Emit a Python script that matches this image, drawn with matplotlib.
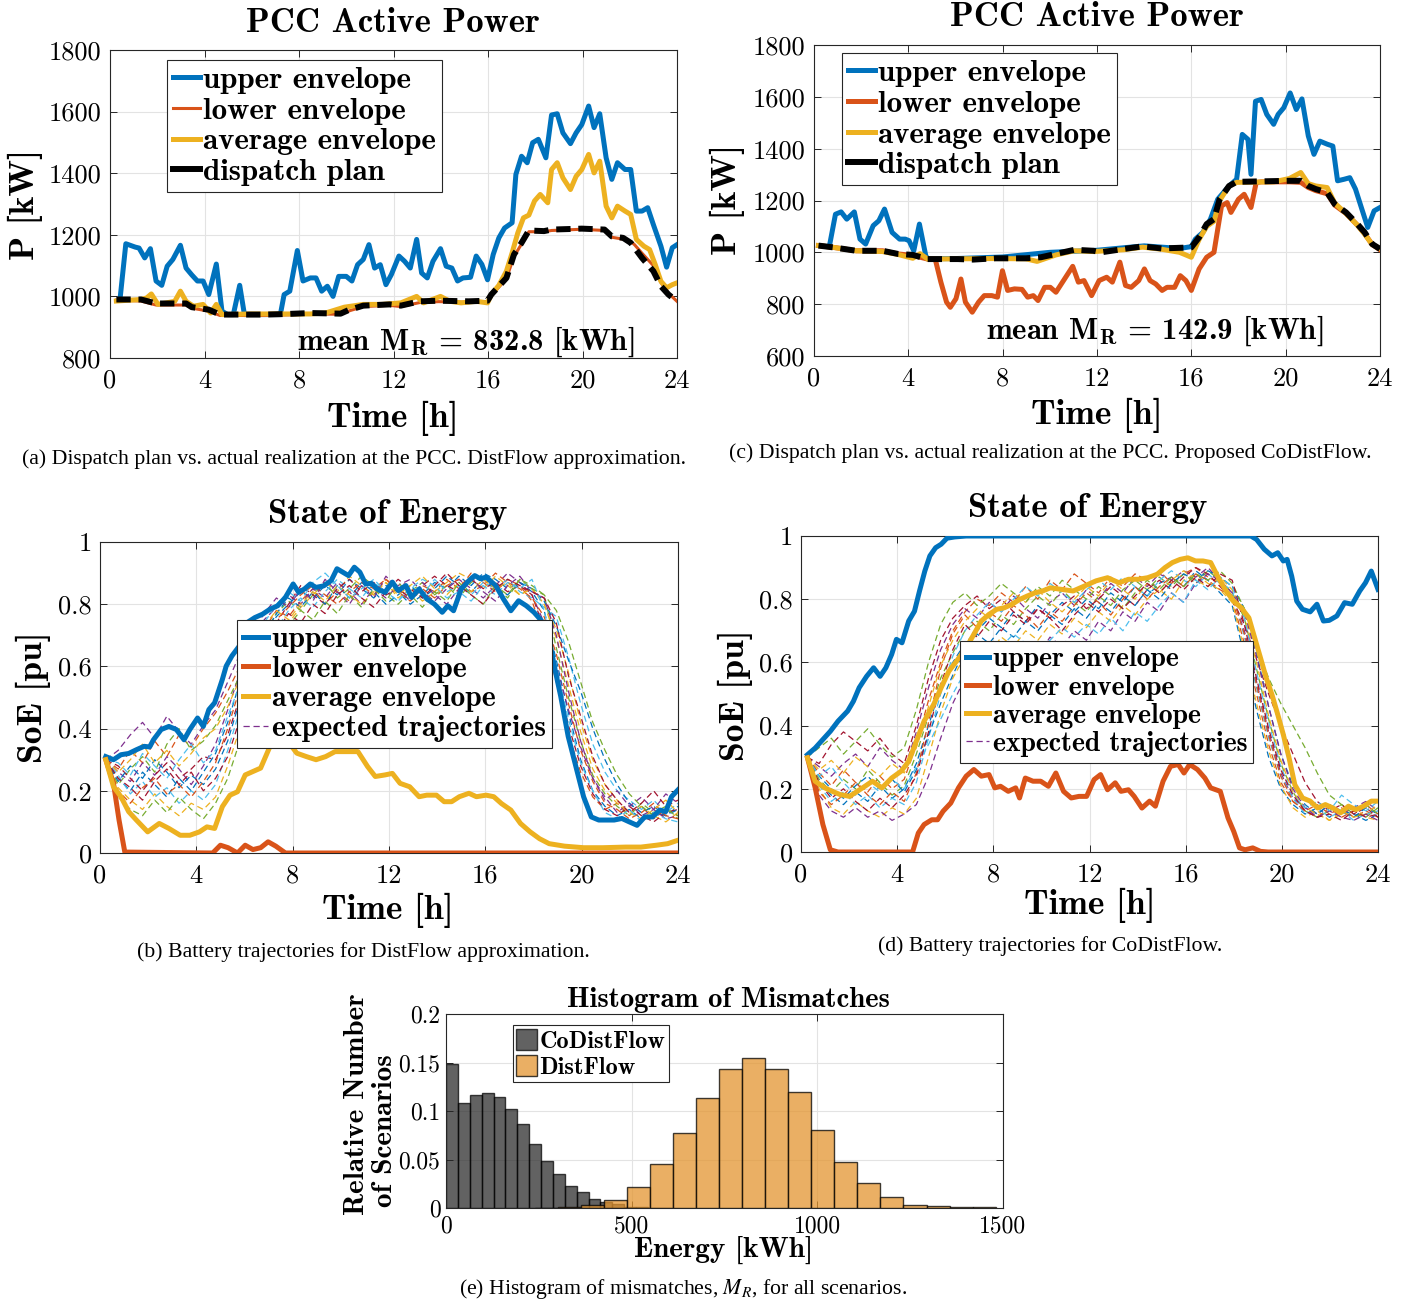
import numpy as np
import matplotlib.pyplot as plt
from matplotlib.lines import Line2D
from matplotlib.patches import Patch

plt.rcParams['font.family'] = 'cmr10'
plt.rcParams['axes.unicode_minus'] = False
plt.rcParams['mathtext.fontset'] = 'cm'

# MATLAB default colours
BLUE, ORANGE, YELLOW = '#0072BD', '#D95319', '#EDB120'
PURPLE, GREEN, CYAN, DRED = '#7E2F8E', '#77AC30', '#4DBEEE', '#A2142F'
TRAJ_COLORS = [BLUE, ORANGE, YELLOW, PURPLE, GREEN, CYAN, DRED]

# ---------------- (a) PCC power, DistFlow ----------------
up_a_t = [0.43, 0.67, 1.07, 1.23, 1.47, 1.71, 1.95, 2.19, 2.42, 2.66, 2.98, 3.22, 3.46, 3.70, 3.94,
          4.18, 4.50, 4.74, 4.98, 5.22, 5.49, 5.69, 7.21, 7.37, 7.61, 7.93, 8.17, 8.48, 8.72, 8.96,
          9.20, 9.44, 9.68, 10.0, 10.24, 10.48, 10.72, 10.96, 11.2, 11.44, 11.68, 11.91, 12.23, 12.47,
          12.71, 12.98, 13.19, 13.43, 13.67, 13.99, 14.23, 14.47, 14.71, 14.94, 15.26, 15.5, 15.74,
          15.98, 16.22, 16.46, 16.7, 17.02, 17.18, 17.42, 17.66, 17.89, 18.13, 18.45, 18.69, 18.93,
          19.17, 19.49, 19.73, 19.97, 20.26, 20.49, 20.73, 21.0, 21.24, 21.48, 21.8, 22.04, 22.28,
          22.52, 22.76, 23.0, 23.32, 23.56, 23.8, 24.0]
up_a = [995, 1171, 1160, 1157, 1125, 1155, 1050, 1036, 1098, 1120, 1166, 1092, 1070, 1050, 1050,
        1006, 1105, 952, 941, 941, 1036, 941, 941, 1006, 1017, 1149, 1050, 1060, 1060, 1017,
        1033, 1000, 1065, 1065, 1050, 1103, 1120, 1168, 1092, 1103, 1038, 1071, 1131, 1114,
        1092, 1185, 1076, 1060, 1114, 1155, 1098, 1092, 1050, 1060, 1062, 1131, 1104,
        1054, 1136, 1190, 1222, 1239, 1396, 1455, 1434, 1499, 1510, 1450, 1589, 1593,
        1531, 1496, 1531, 1558, 1618, 1548, 1593, 1450, 1380, 1434, 1412, 1412, 1277,
        1277, 1288, 1233, 1163, 1095, 1158, 1168]
disp_a_t = [0.27, 1.31, 1.95, 3.22, 3.46, 4.18, 4.66, 5.45, 6.57, 7.53, 8.48, 9.76, 10.08, 10.72,
            11.83, 12.31, 13.11, 13.91, 15.18, 15.98, 16.14, 16.46, 16.78, 17.10, 17.42, 17.73,
            18.37, 18.69, 19.97, 20.93, 21.24, 21.72, 22.04, 22.20, 22.52, 23.00, 23.32, 23.64, 24.00]
disp_a = [990, 990, 977, 977, 965, 957, 941, 941, 941, 943, 946, 944, 955, 970, 974, 970, 984, 986,
          984, 986, 1006, 1033, 1060, 1136, 1174, 1214, 1212, 1217, 1220, 1217, 1195, 1190, 1174,
          1158, 1125, 1082, 1033, 1006, 984]
low_a = [988, 985, 972, 972, 962, 952, 938, 938, 938, 940, 943, 942, 952, 967, 971, 967, 980, 983,
         981, 983, 1003, 1030, 1058, 1130, 1170, 1210, 1210, 1214, 1218, 1214, 1192, 1186, 1178,
         1168, 1140, 1100, 1045, 1010, 984]
avg_a_t = [0.27, 1.31, 1.55, 1.75, 2.03, 2.74, 2.98, 3.22, 3.54, 3.94, 4.26, 4.50, 4.74, 5.93, 7.21,
           8.48, 9.12, 9.92, 10.72, 11.52, 12.31, 12.98, 13.27, 13.99, 14.39, 14.86, 15.50, 15.98,
           16.14, 16.46, 16.78, 17.02, 17.26, 17.50, 17.73, 17.97, 18.21, 18.53, 18.69, 18.93,
           19.17, 19.49, 19.73, 19.97, 20.26, 20.49, 20.73, 21.00, 21.24, 21.48, 21.80, 22.04,
           22.28, 22.60, 22.84, 23.08, 23.32, 23.56, 23.80, 24.00]
avg_a = [985, 990, 995, 1008, 974, 984, 1017, 984, 968, 974, 946, 974, 941, 943, 943, 943, 946, 965,
         974, 974, 979, 1000, 979, 1000, 984, 979, 984, 979, 1006, 1036, 1082, 1141, 1206, 1255,
         1264, 1310, 1331, 1304, 1412, 1434, 1385, 1347, 1390, 1412, 1461, 1401, 1439, 1293, 1255,
         1293, 1277, 1266, 1185, 1163, 1152, 1103, 1049, 1028, 1038, 1044]

# ---------------- (c) PCC power, CoDistFlow ----------------
up_c_t = [0.67, 0.91, 1.15, 1.39, 1.71, 1.95, 2.19, 2.51, 2.75, 2.99, 3.31, 3.63, 3.87, 4.03, 4.23,
          4.47, 4.74, 4.82, 6.0, 8.0, 10.0, 12.0, 14.0, 15.5, 16.0, 16.17, 16.49, 16.81, 17.12,
          17.60, 17.92, 18.16, 18.40, 18.53, 18.72, 18.96, 19.20, 19.49, 19.68, 19.92, 20.19,
          20.45, 20.69, 20.96, 21.20, 21.45, 21.77, 22.00, 22.20, 22.48, 22.72, 22.96, 23.23,
          23.48, 23.75, 24.00]
up_c = [1032, 1147, 1156, 1128, 1156, 1051, 1032, 1103, 1122, 1167, 1077, 1051, 1051, 1045, 1006,
        1109, 987, 975, 976, 982, 1000, 1008, 1025, 1015, 1022, 1051, 1077, 1128, 1205, 1256, 1282,
        1455, 1436, 1301, 1583, 1590, 1532, 1494, 1532, 1558, 1615, 1551, 1592, 1449, 1378, 1429,
        1417, 1410, 1276, 1282, 1288, 1244, 1167, 1096, 1160, 1173]
disp_c_t = [0.19, 0.83, 1.79, 2.91, 3.55, 4.19, 4.82, 6.10, 6.74, 7.70, 8.98, 9.62, 10.26, 11.05,
            11.85, 12.17, 13.13, 13.93, 14.73, 16.00, 16.33, 16.65, 16.96, 17.20, 17.60, 17.92,
            20.16, 20.64, 20.96, 21.28, 21.76, 22.08, 22.56, 23.04, 23.35, 23.67, 24.00]
disp_c = [1026, 1019, 1006, 1006, 994, 990, 974, 974, 972, 977, 977, 981, 994, 1010, 1006, 1000,
          1013, 1023, 1015, 1019, 1058, 1109, 1128, 1205, 1256, 1272, 1276, 1276, 1256, 1244, 1231,
          1186, 1154, 1109, 1077, 1032, 1013]
avg_c_t = [0.19, 0.83, 1.79, 2.91, 3.55, 4.19, 4.50, 4.82, 6.10, 7.70, 8.98, 9.46, 10.26, 11.05,
           11.85, 13.13, 13.93, 14.73, 15.50, 16.00, 16.33, 16.65, 16.96, 17.20, 17.60, 17.92,
           19.50, 20.16, 20.64, 20.96, 21.28, 21.76, 22.08, 22.56, 23.04, 23.35, 23.67, 24.00]
avg_c = [1026, 1019, 1006, 1003, 992, 977, 995, 974, 975, 976, 975, 965, 990, 1006, 1003, 1010,
         1020, 1012, 1000, 981, 1050, 1100, 1120, 1200, 1256, 1270, 1272, 1285, 1308, 1265, 1256,
         1250, 1190, 1150, 1105, 1070, 1030, 1015]
low_c_t = [0.19, 0.83, 1.79, 2.91, 3.55, 4.19, 4.82, 5.14, 5.38, 5.62, 5.78, 6.02, 6.23, 6.42,
           6.71, 6.98, 7.22, 7.54, 7.78, 7.99, 8.21, 8.50, 8.82, 9.06, 9.30, 9.50, 9.78, 10.02,
           10.26, 10.58, 10.97, 11.21, 11.45, 11.77, 12.09, 12.41, 12.65, 12.97, 13.21, 13.45,
           13.77, 14.01, 14.25, 14.49, 14.76, 14.97, 15.29, 15.53, 15.77, 16.00, 16.33, 16.65,
           16.96, 17.28, 17.52, 17.68, 18.00, 18.24, 18.53, 18.75, 18.96, 20.16, 20.64, 20.96,
           21.28, 21.76, 22.08, 22.56, 23.04, 23.35, 23.67, 24.00]
low_c = [1026, 1019, 1006, 1006, 994, 988, 974, 974, 885, 808, 788, 821, 897, 808, 769, 808, 833,
         833, 827, 929, 853, 859, 857, 827, 833, 814, 865, 865, 846, 891, 946, 885, 891, 833, 891,
         904, 885, 962, 872, 865, 891, 936, 891, 878, 853, 865, 865, 910, 891, 853, 936, 981, 1000,
         1179, 1192, 1154, 1205, 1224, 1173, 1269, 1272, 1272, 1270, 1250, 1238, 1226, 1182, 1150,
         1105, 1072, 1030, 1010]

# ---------------- (b) SoE, DistFlow ----------------
up_b_t = [0.24, 0.56, 0.87, 1.19, 1.51, 1.83, 2.06, 2.22, 2.54, 2.86, 3.17, 3.49, 3.73, 4.05, 4.29,
          4.52, 4.76, 5.08, 5.24, 5.48, 5.79, 6.11, 6.43, 6.75, 7.06, 7.38, 7.70, 8.02, 8.25, 8.49,
          8.73, 8.97, 9.29, 9.60, 9.84, 10.08, 10.32, 10.56, 10.79, 11.03, 11.27, 11.51, 11.83,
          12.14, 12.38, 12.70, 12.94, 13.25, 13.57, 13.89, 14.21, 14.44, 14.68, 15.00, 15.32,
          15.56, 15.79, 16.03, 16.43, 16.75, 17.06, 17.38, 17.70, 18.02, 18.33, 18.65, 18.89,
          19.13, 19.44, 19.76, 20.08, 20.40, 20.71, 21.03, 21.35, 21.67, 21.98, 22.30, 22.62,
          22.94, 23.25, 23.49, 23.73, 24.00]
up_b = [0.310, 0.300, 0.316, 0.320, 0.332, 0.343, 0.341, 0.364, 0.397, 0.407, 0.397, 0.364, 0.397,
        0.434, 0.407, 0.461, 0.483, 0.558, 0.601, 0.634, 0.666, 0.741, 0.757, 0.768, 0.784, 0.795,
        0.822, 0.865, 0.838, 0.849, 0.865, 0.854, 0.859, 0.876, 0.914, 0.903, 0.892, 0.919, 0.903,
        0.865, 0.867, 0.849, 0.838, 0.871, 0.844, 0.860, 0.822, 0.849, 0.817, 0.800, 0.774, 0.795,
        0.779, 0.849, 0.876, 0.892, 0.882, 0.887, 0.860, 0.817, 0.779, 0.811, 0.795, 0.774, 0.747,
        0.688, 0.591, 0.504, 0.375, 0.278, 0.181, 0.116, 0.106, 0.106, 0.106, 0.111, 0.100, 0.089,
        0.116, 0.116, 0.138, 0.133, 0.181, 0.203]
low_b_t = [0.24, 0.56, 0.79, 1.03, 4.68, 5.00, 5.32, 5.71, 6.03, 6.35, 6.67, 6.98, 7.30, 7.70, 24.0]
low_b = [0.300, 0.224, 0.106, 0.003, 0.0, 0.025, 0.017, 0.0, 0.025, 0.011, 0.017, 0.036, 0.022, 0.0, 0.0]
avg_b_t = [0.24, 0.56, 0.87, 1.19, 1.51, 1.98, 2.46, 2.86, 3.33, 3.73, 4.13, 4.44, 4.76, 5.08, 5.40,
           5.71, 6.03, 6.35, 6.67, 7.06, 7.38, 7.70, 8.17, 8.57, 8.97, 9.37, 9.76, 10.24, 10.71,
           11.11, 11.43, 11.83, 12.14, 12.46, 12.86, 13.25, 13.57, 13.97, 14.29, 14.60, 14.92,
           15.32, 15.63, 16.03, 16.35, 16.67, 17.06, 17.46, 17.86, 18.25, 18.65, 19.29, 20.08,
           20.87, 21.83, 22.46, 23.10, 23.57, 24.00]
avg_b = [0.300, 0.213, 0.181, 0.133, 0.106, 0.068, 0.095, 0.079, 0.057, 0.057, 0.068, 0.084, 0.079,
         0.149, 0.186, 0.197, 0.251, 0.262, 0.273, 0.343, 0.353, 0.370, 0.321, 0.310, 0.300, 0.310,
         0.326, 0.326, 0.326, 0.278, 0.246, 0.251, 0.256, 0.224, 0.213, 0.181, 0.186, 0.186, 0.165,
         0.165, 0.181, 0.192, 0.181, 0.186, 0.181, 0.159, 0.138, 0.095, 0.068, 0.046, 0.030, 0.022,
         0.017, 0.017, 0.019, 0.019, 0.025, 0.030, 0.041]

# expected trajectories, sampled every ~0.5 h
traj_t = np.linspace(0.25, 24, 48)
traj_b = [
    [0.30, 0.24, 0.20, 0.26, 0.22, 0.18, 0.24, 0.20, 0.26, 0.32, 0.42, 0.55, 0.63, 0.70, 0.76, 0.80, 0.84, 0.82, 0.86, 0.83, 0.88, 0.85, 0.82, 0.86, 0.84, 0.80, 0.83, 0.87, 0.85, 0.89, 0.86, 0.90, 0.88, 0.85, 0.87, 0.84, 0.78, 0.62, 0.45, 0.30, 0.20, 0.15, 0.12, 0.14, 0.11, 0.13, 0.12, 0.15],
    [0.30, 0.27, 0.33, 0.29, 0.36, 0.31, 0.38, 0.34, 0.40, 0.45, 0.52, 0.60, 0.66, 0.72, 0.78, 0.76, 0.81, 0.85, 0.80, 0.84, 0.81, 0.86, 0.83, 0.88, 0.85, 0.82, 0.86, 0.84, 0.88, 0.85, 0.90, 0.87, 0.84, 0.88, 0.86, 0.81, 0.70, 0.55, 0.38, 0.26, 0.18, 0.14, 0.16, 0.12, 0.15, 0.11, 0.14, 0.12],
    [0.30, 0.21, 0.17, 0.14, 0.19, 0.15, 0.12, 0.16, 0.14, 0.18, 0.28, 0.40, 0.52, 0.60, 0.68, 0.74, 0.79, 0.83, 0.87, 0.84, 0.89, 0.86, 0.83, 0.87, 0.82, 0.85, 0.81, 0.84, 0.87, 0.90, 0.88, 0.85, 0.89, 0.86, 0.83, 0.85, 0.80, 0.72, 0.58, 0.42, 0.30, 0.22, 0.17, 0.13, 0.15, 0.12, 0.10, 0.13],
    [0.30, 0.26, 0.23, 0.29, 0.25, 0.31, 0.27, 0.22, 0.28, 0.35, 0.46, 0.58, 0.68, 0.75, 0.79, 0.83, 0.80, 0.85, 0.82, 0.87, 0.84, 0.80, 0.85, 0.82, 0.86, 0.88, 0.84, 0.81, 0.85, 0.88, 0.85, 0.82, 0.86, 0.90, 0.87, 0.83, 0.74, 0.60, 0.46, 0.34, 0.24, 0.18, 0.13, 0.16, 0.12, 0.14, 0.11, 0.12],
    [0.30, 0.22, 0.27, 0.31, 0.26, 0.35, 0.40, 0.33, 0.36, 0.41, 0.49, 0.57, 0.64, 0.71, 0.77, 0.81, 0.78, 0.83, 0.87, 0.82, 0.85, 0.89, 0.86, 0.83, 0.80, 0.84, 0.87, 0.83, 0.86, 0.82, 0.87, 0.89, 0.86, 0.83, 0.88, 0.86, 0.83, 0.66, 0.50, 0.36, 0.25, 0.19, 0.15, 0.12, 0.16, 0.13, 0.15, 0.11],
    [0.30, 0.25, 0.19, 0.23, 0.18, 0.21, 0.16, 0.20, 0.17, 0.22, 0.33, 0.46, 0.57, 0.66, 0.72, 0.78, 0.82, 0.79, 0.84, 0.88, 0.85, 0.82, 0.87, 0.84, 0.81, 0.86, 0.83, 0.88, 0.84, 0.86, 0.83, 0.87, 0.85, 0.88, 0.84, 0.82, 0.79, 0.76, 0.63, 0.48, 0.35, 0.26, 0.20, 0.17, 0.14, 0.17, 0.13, 0.16],
    [0.30, 0.28, 0.24, 0.20, 0.25, 0.29, 0.24, 0.27, 0.31, 0.30, 0.38, 0.50, 0.61, 0.69, 0.74, 0.80, 0.86, 0.83, 0.80, 0.85, 0.88, 0.84, 0.87, 0.83, 0.85, 0.82, 0.86, 0.89, 0.86, 0.84, 0.88, 0.85, 0.87, 0.84, 0.86, 0.83, 0.72, 0.57, 0.41, 0.28, 0.19, 0.14, 0.12, 0.15, 0.12, 0.10, 0.13, 0.14],
    [0.30, 0.23, 0.28, 0.24, 0.30, 0.26, 0.21, 0.25, 0.22, 0.27, 0.36, 0.49, 0.60, 0.70, 0.77, 0.82, 0.79, 0.84, 0.80, 0.86, 0.82, 0.87, 0.84, 0.80, 0.83, 0.86, 0.82, 0.85, 0.89, 0.86, 0.84, 0.88, 0.85, 0.83, 0.87, 0.85, 0.81, 0.73, 0.62, 0.52, 0.40, 0.30, 0.22, 0.16, 0.13, 0.15, 0.12, 0.14],
    [0.30, 0.20, 0.16, 0.21, 0.24, 0.19, 0.22, 0.18, 0.23, 0.29, 0.40, 0.53, 0.62, 0.68, 0.75, 0.79, 0.83, 0.86, 0.83, 0.80, 0.84, 0.87, 0.85, 0.88, 0.84, 0.81, 0.85, 0.82, 0.86, 0.88, 0.84, 0.86, 0.90, 0.87, 0.85, 0.82, 0.76, 0.64, 0.48, 0.33, 0.23, 0.16, 0.14, 0.11, 0.13, 0.16, 0.12, 0.11],
    [0.30, 0.26, 0.30, 0.35, 0.29, 0.33, 0.28, 0.32, 0.37, 0.40, 0.47, 0.56, 0.65, 0.73, 0.78, 0.75, 0.80, 0.84, 0.81, 0.86, 0.83, 0.80, 0.84, 0.87, 0.83, 0.86, 0.89, 0.85, 0.83, 0.87, 0.84, 0.88, 0.85, 0.87, 0.83, 0.85, 0.80, 0.69, 0.54, 0.39, 0.27, 0.20, 0.16, 0.13, 0.11, 0.14, 0.17, 0.13],
    [0.30, 0.33, 0.38, 0.42, 0.37, 0.44, 0.39, 0.35, 0.41, 0.46, 0.55, 0.64, 0.71, 0.77, 0.82, 0.79, 0.85, 0.81, 0.88, 0.84, 0.80, 0.86, 0.82, 0.89, 0.85, 0.81, 0.87, 0.83, 0.80, 0.85, 0.89, 0.84, 0.81, 0.86, 0.89, 0.84, 0.82, 0.70, 0.52, 0.36, 0.24, 0.17, 0.20, 0.15, 0.18, 0.14, 0.19, 0.16],
    [0.30, 0.18, 0.14, 0.12, 0.17, 0.13, 0.18, 0.14, 0.11, 0.16, 0.24, 0.36, 0.48, 0.58, 0.66, 0.73, 0.78, 0.75, 0.81, 0.77, 0.83, 0.79, 0.85, 0.81, 0.87, 0.83, 0.79, 0.84, 0.81, 0.87, 0.83, 0.80, 0.86, 0.82, 0.88, 0.85, 0.83, 0.78, 0.68, 0.55, 0.42, 0.33, 0.25, 0.19, 0.15, 0.12, 0.14, 0.12],
    [0.30, 0.29, 0.25, 0.32, 0.28, 0.24, 0.30, 0.35, 0.29, 0.33, 0.44, 0.54, 0.67, 0.74, 0.80, 0.84, 0.81, 0.87, 0.90, 0.86, 0.82, 0.85, 0.88, 0.84, 0.81, 0.85, 0.88, 0.86, 0.82, 0.84, 0.81, 0.86, 0.83, 0.87, 0.85, 0.88, 0.78, 0.60, 0.43, 0.29, 0.20, 0.13, 0.11, 0.14, 0.10, 0.13, 0.11, 0.10],
    [0.30, 0.24, 0.21, 0.17, 0.23, 0.27, 0.22, 0.26, 0.20, 0.24, 0.31, 0.43, 0.54, 0.63, 0.71, 0.77, 0.74, 0.80, 0.77, 0.83, 0.86, 0.82, 0.79, 0.84, 0.88, 0.85, 0.82, 0.86, 0.90, 0.86, 0.83, 0.80, 0.85, 0.88, 0.86, 0.84, 0.82, 0.74, 0.57, 0.44, 0.31, 0.22, 0.17, 0.13, 0.16, 0.20, 0.15, 0.17],
]

# ---------------- (d) SoE, CoDistFlow ----------------
up_d_t = [0.27, 0.59, 0.91, 1.22, 1.54, 1.94, 2.18, 2.42, 2.73, 3.02, 3.29, 3.53, 3.77, 3.97, 4.20,
          4.48, 4.72, 4.93, 5.15, 5.36, 5.60, 5.83, 6.07, 6.39, 6.87, 18.71, 18.95, 19.27, 19.59,
          19.83, 20.06, 20.22, 20.41, 20.62, 20.86, 21.18, 21.46, 21.73, 21.97, 22.29, 22.61,
          22.93, 23.24, 23.48, 23.72, 24.00]
up_d = [0.308, 0.329, 0.356, 0.382, 0.414, 0.446, 0.477, 0.520, 0.556, 0.583, 0.556, 0.583, 0.625,
        0.673, 0.662, 0.731, 0.762, 0.826, 0.889, 0.937, 0.963, 0.974, 0.993, 0.997, 1.000, 1.000,
        0.989, 0.958, 0.937, 0.947, 0.921, 0.926, 0.873, 0.794, 0.768, 0.760, 0.784, 0.731, 0.733,
        0.747, 0.789, 0.784, 0.826, 0.852, 0.889, 0.831]
low_d_t = [0.27, 0.59, 0.91, 1.22, 1.54, 4.64, 4.88, 5.12, 5.44, 5.68, 5.91, 6.23, 6.55, 6.87, 7.19,
           7.50, 7.82, 8.06, 8.30, 8.62, 8.93, 9.09, 9.33, 9.65, 9.97, 10.29, 10.60, 10.92, 11.24,
           11.56, 11.88, 12.19, 12.46, 12.75, 13.07, 13.31, 13.62, 13.86, 14.18, 14.50, 14.74,
           15.06, 15.37, 15.69, 15.93, 16.17, 16.49, 16.80, 17.04, 17.44, 17.76, 18.00, 18.24,
           18.47, 18.79, 19.11, 19.43, 24.00]
low_d = [0.298, 0.203, 0.087, 0.007, 0.0, 0.0, 0.060, 0.087, 0.102, 0.102, 0.129, 0.155, 0.203,
         0.240, 0.261, 0.240, 0.245, 0.203, 0.208, 0.192, 0.203, 0.171, 0.234, 0.224, 0.224, 0.208,
         0.250, 0.192, 0.171, 0.176, 0.176, 0.229, 0.245, 0.197, 0.219, 0.192, 0.197, 0.176, 0.139,
         0.161, 0.145, 0.224, 0.271, 0.277, 0.250, 0.277, 0.261, 0.234, 0.203, 0.192, 0.108, 0.065,
         0.013, 0.007, 0.013, 0.002, 0.0, 0.0]
avg_d_t = [0.27, 0.59, 0.99, 1.30, 1.62, 2.02, 2.34, 2.66, 2.97, 3.37, 3.77, 4.17, 4.48, 4.80, 5.12,
           5.52, 5.83, 6.15, 6.47, 6.87, 7.19, 7.50, 7.82, 8.14, 8.46, 8.78, 9.09, 9.41, 9.73,
           10.05, 10.37, 10.84, 11.32, 11.80, 12.27, 12.75, 13.23, 13.62, 14.02, 14.42, 14.82,
           15.14, 15.45, 15.77, 16.09, 16.41, 16.72, 17.04, 17.36, 17.68, 18.00, 18.31, 18.63,
           18.87, 19.11, 19.35, 19.59, 19.83, 20.06, 20.30, 20.54, 20.86, 21.18, 21.49, 21.81,
           22.13, 22.45, 22.77, 23.08, 23.40, 23.72, 24.00]
avg_d = [0.298, 0.224, 0.203, 0.192, 0.182, 0.176, 0.192, 0.208, 0.224, 0.203, 0.234, 0.256, 0.287,
         0.351, 0.414, 0.467, 0.520, 0.572, 0.604, 0.646, 0.689, 0.731, 0.752, 0.768, 0.773, 0.784,
         0.799, 0.810, 0.820, 0.826, 0.836, 0.831, 0.826, 0.842, 0.858, 0.868, 0.852, 0.863, 0.863,
         0.868, 0.879, 0.900, 0.916, 0.926, 0.931, 0.921, 0.921, 0.916, 0.868, 0.826, 0.794, 0.773,
         0.741, 0.678, 0.615, 0.551, 0.498, 0.435, 0.372, 0.298, 0.213, 0.171, 0.161, 0.139, 0.150,
         0.139, 0.124, 0.145, 0.134, 0.145, 0.161, 0.161]
traj_d = [
    [0.30, 0.22, 0.18, 0.15, 0.19, 0.16, 0.21, 0.17, 0.20, 0.28, 0.40, 0.52, 0.60, 0.66, 0.70, 0.74, 0.71, 0.76, 0.73, 0.78, 0.75, 0.79, 0.76, 0.80, 0.77, 0.82, 0.79, 0.84, 0.81, 0.85, 0.87, 0.84, 0.89, 0.86, 0.82, 0.78, 0.62, 0.45, 0.30, 0.20, 0.15, 0.12, 0.14, 0.11, 0.13, 0.12, 0.10, 0.12],
    [0.30, 0.25, 0.21, 0.26, 0.22, 0.19, 0.24, 0.20, 0.23, 0.34, 0.48, 0.60, 0.70, 0.76, 0.80, 0.78, 0.82, 0.79, 0.84, 0.80, 0.86, 0.83, 0.88, 0.85, 0.82, 0.87, 0.84, 0.88, 0.86, 0.89, 0.85, 0.88, 0.90, 0.87, 0.85, 0.80, 0.66, 0.50, 0.34, 0.22, 0.16, 0.13, 0.15, 0.12, 0.14, 0.11, 0.13, 0.11],
    [0.30, 0.20, 0.14, 0.12, 0.16, 0.13, 0.11, 0.14, 0.12, 0.17, 0.30, 0.44, 0.55, 0.62, 0.66, 0.63, 0.68, 0.65, 0.70, 0.67, 0.72, 0.69, 0.74, 0.71, 0.76, 0.73, 0.78, 0.75, 0.80, 0.83, 0.80, 0.86, 0.88, 0.85, 0.83, 0.79, 0.64, 0.47, 0.32, 0.21, 0.14, 0.11, 0.13, 0.10, 0.12, 0.14, 0.11, 0.10],
    [0.30, 0.27, 0.24, 0.28, 0.31, 0.27, 0.33, 0.29, 0.26, 0.38, 0.52, 0.64, 0.72, 0.77, 0.74, 0.79, 0.76, 0.81, 0.77, 0.74, 0.79, 0.82, 0.78, 0.83, 0.80, 0.85, 0.82, 0.87, 0.84, 0.88, 0.86, 0.89, 0.87, 0.90, 0.86, 0.81, 0.70, 0.54, 0.38, 0.25, 0.17, 0.14, 0.12, 0.15, 0.12, 0.14, 0.16, 0.13],
    [0.30, 0.23, 0.19, 0.23, 0.20, 0.26, 0.22, 0.18, 0.21, 0.31, 0.43, 0.55, 0.63, 0.70, 0.73, 0.70, 0.75, 0.72, 0.77, 0.81, 0.78, 0.83, 0.79, 0.76, 0.81, 0.78, 0.83, 0.86, 0.83, 0.87, 0.84, 0.88, 0.85, 0.89, 0.86, 0.82, 0.74, 0.58, 0.42, 0.28, 0.19, 0.13, 0.11, 0.13, 0.15, 0.12, 0.11, 0.14],
    [0.30, 0.21, 0.16, 0.19, 0.15, 0.18, 0.14, 0.17, 0.15, 0.22, 0.36, 0.50, 0.62, 0.70, 0.75, 0.79, 0.76, 0.80, 0.84, 0.81, 0.85, 0.82, 0.79, 0.83, 0.86, 0.83, 0.87, 0.84, 0.81, 0.86, 0.89, 0.86, 0.84, 0.88, 0.85, 0.83, 0.68, 0.52, 0.36, 0.24, 0.17, 0.12, 0.14, 0.11, 0.13, 0.10, 0.12, 0.13],
    [0.30, 0.28, 0.34, 0.38, 0.35, 0.32, 0.36, 0.31, 0.28, 0.40, 0.55, 0.67, 0.74, 0.78, 0.81, 0.77, 0.80, 0.76, 0.73, 0.77, 0.74, 0.78, 0.81, 0.77, 0.80, 0.84, 0.81, 0.78, 0.83, 0.86, 0.83, 0.87, 0.90, 0.88, 0.84, 0.80, 0.72, 0.61, 0.50, 0.40, 0.31, 0.22, 0.16, 0.13, 0.15, 0.12, 0.14, 0.11],
    [0.30, 0.24, 0.20, 0.17, 0.21, 0.24, 0.20, 0.23, 0.19, 0.26, 0.37, 0.47, 0.56, 0.64, 0.69, 0.66, 0.71, 0.68, 0.73, 0.70, 0.75, 0.72, 0.77, 0.74, 0.79, 0.76, 0.81, 0.78, 0.83, 0.80, 0.85, 0.88, 0.86, 0.89, 0.87, 0.84, 0.77, 0.63, 0.46, 0.31, 0.21, 0.15, 0.12, 0.15, 0.13, 0.11, 0.14, 0.12],
    [0.30, 0.19, 0.15, 0.18, 0.22, 0.18, 0.15, 0.19, 0.16, 0.25, 0.41, 0.58, 0.69, 0.75, 0.71, 0.76, 0.73, 0.78, 0.75, 0.71, 0.76, 0.73, 0.78, 0.82, 0.79, 0.75, 0.80, 0.84, 0.80, 0.84, 0.87, 0.84, 0.88, 0.86, 0.83, 0.81, 0.69, 0.53, 0.37, 0.24, 0.16, 0.13, 0.11, 0.14, 0.11, 0.13, 0.15, 0.12],
    [0.30, 0.26, 0.29, 0.25, 0.30, 0.27, 0.24, 0.28, 0.25, 0.33, 0.46, 0.59, 0.67, 0.73, 0.77, 0.74, 0.78, 0.82, 0.79, 0.83, 0.79, 0.76, 0.80, 0.84, 0.81, 0.86, 0.83, 0.80, 0.85, 0.82, 0.86, 0.89, 0.86, 0.84, 0.87, 0.83, 0.75, 0.60, 0.43, 0.29, 0.19, 0.14, 0.12, 0.10, 0.13, 0.11, 0.12, 0.15],
    [0.30, 0.18, 0.13, 0.11, 0.14, 0.11, 0.13, 0.10, 0.12, 0.15, 0.24, 0.36, 0.47, 0.55, 0.61, 0.58, 0.63, 0.60, 0.66, 0.62, 0.68, 0.65, 0.70, 0.67, 0.73, 0.70, 0.76, 0.73, 0.79, 0.76, 0.82, 0.79, 0.85, 0.88, 0.86, 0.82, 0.76, 0.62, 0.46, 0.31, 0.20, 0.14, 0.11, 0.13, 0.11, 0.10, 0.12, 0.10],
    [0.30, 0.33, 0.36, 0.31, 0.35, 0.39, 0.34, 0.30, 0.33, 0.45, 0.60, 0.72, 0.79, 0.82, 0.78, 0.81, 0.85, 0.82, 0.79, 0.84, 0.81, 0.86, 0.83, 0.80, 0.84, 0.81, 0.77, 0.82, 0.86, 0.83, 0.87, 0.84, 0.88, 0.86, 0.89, 0.85, 0.77, 0.65, 0.55, 0.47, 0.40, 0.33, 0.25, 0.18, 0.15, 0.13, 0.15, 0.12],
    [0.30, 0.24, 0.27, 0.22, 0.18, 0.22, 0.19, 0.23, 0.20, 0.27, 0.34, 0.42, 0.50, 0.57, 0.63, 0.60, 0.65, 0.69, 0.66, 0.62, 0.67, 0.71, 0.68, 0.72, 0.69, 0.74, 0.70, 0.76, 0.73, 0.78, 0.82, 0.79, 0.86, 0.83, 0.87, 0.84, 0.74, 0.57, 0.41, 0.27, 0.18, 0.14, 0.16, 0.13, 0.18, 0.15, 0.13, 0.16],
    [0.30, 0.22, 0.17, 0.20, 0.16, 0.13, 0.17, 0.14, 0.18, 0.24, 0.38, 0.53, 0.64, 0.72, 0.68, 0.73, 0.70, 0.75, 0.72, 0.77, 0.74, 0.70, 0.75, 0.79, 0.76, 0.80, 0.77, 0.81, 0.85, 0.82, 0.86, 0.83, 0.87, 0.84, 0.88, 0.86, 0.72, 0.55, 0.39, 0.26, 0.18, 0.13, 0.11, 0.12, 0.10, 0.13, 0.11, 0.12],
]

# ---------------- (e) histogram ----------------
co_width = 32
co_heights = [0.1486, 0.108, 0.117, 0.1186, 0.1145, 0.102, 0.087, 0.0655, 0.048, 0.035, 0.0224,
              0.016, 0.0093, 0.0059, 0.004, 0.0015, 0.001, 0.0005, 0.0005]
dist_start, dist_width = 240, 62
dist_heights = [0.0005, 0.001, 0.003, 0.0086, 0.022, 0.0455, 0.0772, 0.1138, 0.1434, 0.1548,
                0.1438, 0.1197, 0.0803, 0.0472, 0.0259, 0.011, 0.003, 0.0017, 0.0007, 0.0007]

# ---------------- drawing ----------------
W, H = 1408, 1300
fig = plt.figure(figsize=(W / 100, H / 100), dpi=100)


def axes_px(l, t, r, b):
    return fig.add_axes([l / W, 1 - b / H, (r - l) / W, (b - t) / H])


def text_px(x, y, s, **kw):
    return fig.text(x / W, 1 - y / H, s, **kw)


def style(ax, size):
    ax.tick_params(direction='in', top=True, right=True, length=5, width=0.7,
                   labelsize=size, colors='#262626', labelcolor='black')
    ax.grid(True, color='#e3e3e3', linewidth=0.8)
    ax.set_axisbelow(True)
    for s in ax.spines.values():
        s.set_color('#262626')
        s.set_linewidth(0.8)


def legend(ax, handles, labels, x, y, size, spacing):
    leg = ax.legend(handles, labels, loc='upper left', bbox_to_anchor=(x, y), borderaxespad=0,
                    prop={'family': 'cmb10', 'size': size}, fancybox=False, edgecolor='#262626',
                    framealpha=1, handlelength=0.85, handletextpad=0.12, labelspacing=spacing,
                    borderpad=0.2)
    leg.get_frame().set_linewidth(0.8)
    leg.set_zorder(10)


BOLD = {'family': 'cmb10'}
LW = 3.6


def power_panel(ax, ut, u, lt, lo, low_lw, at, av, dt, dp, ylo, tag, tx, ty):
    ax.plot(ut, u, color=BLUE, lw=LW, zorder=3)
    ax.plot(lt, lo, color=ORANGE, lw=low_lw, zorder=3)
    ax.plot(at, av, color=YELLOW, lw=LW, zorder=3)
    ax.plot(dt, dp, color='black', lw=4.3, dashes=(2.4, 1.3), zorder=4)
    ax.set_xlim(0, 24)
    ax.set_ylim(ylo, 1800)
    ax.set_xticks(range(0, 25, 4))
    ax.set_yticks(range(ylo, 1801, 200))
    style(ax, 19)
    ax.tick_params(axis='x', pad=8)
    ax.tick_params(axis='y', pad=6)
    ax.text(tx, ty, 'mean $\\mathbf{M}_{\\mathbf{R}}$ = ' + tag + ' [kWh]', transform=ax.transAxes,
            ha='right', va='center', fontsize=22.2, **BOLD)
    # legend shows the dispatch plan as a solid black stroke
    h = [Line2D([], [], color=BLUE, lw=LW), Line2D([], [], color=ORANGE, lw=low_lw),
         Line2D([], [], color=YELLOW, lw=LW), Line2D([], [], color='black', lw=4.3)]
    return h


labels_p = ['upper envelope', 'lower envelope', 'average envelope', 'dispatch plan']

ax_a = axes_px(110, 50, 677, 358)
h = power_panel(ax_a, up_a_t, up_a, disp_a_t, low_a, 2.2, avg_a_t, avg_a, disp_a_t, disp_a, 800,
                '832.8', 0.924, 0.052)
legend(ax_a, h, labels_p, 0.1005, 0.9675, 22.3, 0.1)

ax_c = axes_px(814, 45, 1380, 356)
h = power_panel(ax_c, up_c_t, up_c, low_c_t, low_c, LW, avg_c_t, avg_c, disp_c_t, disp_c, 600,
                '142.9', 0.899, 0.080)
legend(ax_c, h, labels_p, 0.0495, 0.974, 22.3, 0.1)


def soe_panel(ax, trajs, ut, u, lt, lo, at, av):
    for i, tr in enumerate(trajs):
        ax.plot(traj_t, tr, color=TRAJ_COLORS[i % 7], lw=0.9, dashes=(5, 3), zorder=2)
    ax.plot(ut, u, color=BLUE, lw=LW, zorder=3)
    ax.plot(lt, lo, color=ORANGE, lw=LW, zorder=3)
    ax.plot(at, av, color=YELLOW, lw=LW, zorder=3)
    ax.set_xlim(0, 24)
    ax.set_ylim(0, 1)
    ax.set_xticks(range(0, 25, 4))
    ax.set_yticks([0, 0.2, 0.4, 0.6, 0.8, 1])
    ax.set_yticklabels(['0', '0.2', '0.4', '0.6', '0.8', '1'])
    style(ax, 19)
    ax.tick_params(axis='x', pad=8)
    ax.tick_params(axis='y', pad=6)
    return [Line2D([], [], color=BLUE, lw=LW), Line2D([], [], color=ORANGE, lw=LW),
            Line2D([], [], color=YELLOW, lw=LW), Line2D([], [], color=PURPLE, lw=0.9, dashes=(5, 3))]


labels_s = ['upper envelope', 'lower envelope', 'average envelope', 'expected trajectories']

ax_b = axes_px(100, 542, 678, 853)
h = soe_panel(ax_b, traj_b, up_b_t, up_b, low_b_t, low_b, avg_b_t, avg_b)
legend(ax_b, h, labels_s, 0.237, 0.749, 21.4, 0.09)

ax_d = axes_px(801, 536, 1378, 852)
h = soe_panel(ax_d, traj_d, up_d_t, up_d, low_d_t, low_d, avg_d_t, avg_d)
legend(ax_d, h, labels_s, 0.2756, 0.668, 20, 0.08)

ax_e = axes_px(446, 1014, 1003, 1208)
co_left = np.arange(len(co_heights)) * co_width
dist_left = dist_start + np.arange(len(dist_heights)) * dist_width
ax_e.bar(co_left, co_heights, width=co_width, align='edge', color='#262626', alpha=0.72,
         edgecolor='black', linewidth=1.0, zorder=2)
ax_e.bar(dist_left, dist_heights, width=dist_width, align='edge', color='#E39530', alpha=0.75,
         edgecolor='black', linewidth=1.0, zorder=3)
ax_e.set_xlim(0, 1500)
ax_e.set_ylim(0, 0.2)
ax_e.set_xticks([0, 500, 1000, 1500])
ax_e.set_yticks([0, 0.05, 0.1, 0.15, 0.2])
ax_e.set_yticklabels(['0', '0.05', '0.1', '0.15', '0.2'])
style(ax_e, 17)
ax_e.tick_params(axis='x', pad=5)
ax_e.tick_params(axis='y', pad=4)
hh = [Patch(facecolor='#262626', alpha=0.72, edgecolor='black'),
      Patch(facecolor='#E39530', alpha=0.75, edgecolor='black')]
leg = ax_e.legend(hh, ['CoDistFlow', 'DistFlow'], loc='upper left', bbox_to_anchor=(0.12, 0.943),
                  borderaxespad=0, prop={'family': 'cmb10', 'size': 17.5}, fancybox=False,
                  edgecolor='#262626', framealpha=1, handlelength=0.85, handleheight=0.95,
                  handletextpad=0.1, labelspacing=0.1, borderpad=0.15)
leg.get_frame().set_linewidth(0.8)

# titles, axis labels and captions
for x, y, s in [(393, 23, 'PCC Active Power'), (1097, 17, 'PCC Active Power'),
                (388, 514, 'State of Energy'), (1088, 508, 'State of Energy')]:
    text_px(x, y, s, ha='center', va='center', fontsize=25, **BOLD)
text_px(728, 1000, 'Histogram of Mismatches', ha='center', va='center', fontsize=20.7, **BOLD)

for x, y in [(393, 418), (1097, 415), (388, 910), (1090, 905)]:
    text_px(x, y, 'Time [h]', ha='center', va='center', fontsize=25.5, **BOLD)
text_px(723, 1250, 'Energy [kWh]', ha='center', va='center', fontsize=21, **BOLD)

for x, y, s in [(25, 205, 'P [kW]'), (727, 200, 'P [kW]'), (33, 697, 'SoE [pu]'), (735, 695, 'SoE [pu]')]:
    text_px(x, y, s, ha='center', va='center', rotation=90, fontsize=25.5, **BOLD)
text_px(357, 1215, 'Relative Number', ha='center', va='bottom', rotation=90, fontsize=21, **BOLD)
text_px(385, 1207, 'of Scenarios', ha='center', va='bottom', rotation=90, fontsize=21, **BOLD)

CAP = {'family': 'Liberation Serif', 'fontsize': 15.7, 'ha': 'center', 'va': 'center'}
text_px(354, 459, '(a) Dispatch plan vs. actual realization at the PCC. DistFlow approximation.', **CAP)
text_px(1050, 453, '(c) Dispatch plan vs. actual realization at the PCC. Proposed CoDistFlow.', **CAP)
text_px(363, 952, '(b) Battery trajectories for DistFlow approximation.', **CAP)
text_px(1050, 946, '(d) Battery trajectories for CoDistFlow.', **CAP)
text_px(683, 1289, '(e) Histogram of mismatches, $M_R$, for all scenarios.', math_fontfamily='stix', **CAP)

fig.savefig('out.png', dpi=100)
